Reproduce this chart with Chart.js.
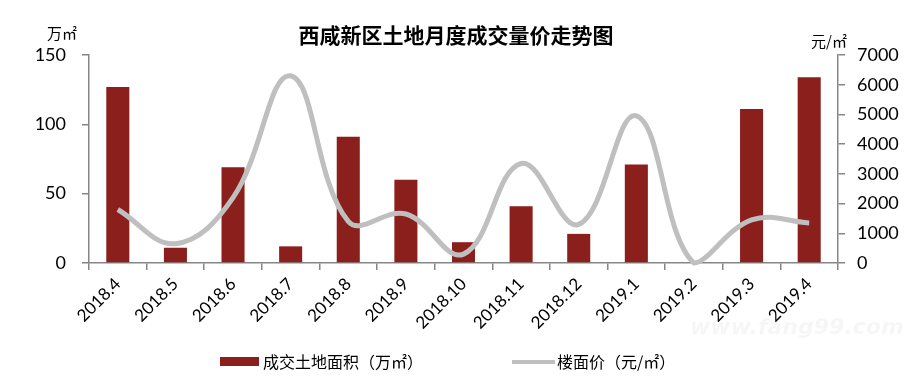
<!DOCTYPE html>
<html><head><meta charset="utf-8">
<script src="https://cdn.jsdelivr.net/npm/chart.js@4.4.0/dist/chart.umd.min.js"></script>
<style>html,body{margin:0;padding:0;background:#fff}canvas{display:block}</style>
</head><body>
<canvas id="c" width="912" height="380"></canvas>
<script>
const categories = ['2018.4','2018.5','2018.6','2018.7','2018.8','2018.9','2018.10','2018.11','2018.12','2019.1','2019.2','2019.3','2019.4'];
const landArea = [127, 11, 69, 12, 91, 60, 15, 41, 21, 71, 0, 111, 134];
const floorPrice = [1800, 650, 2200, 6300, 1400, 1650, 300, 3350, 1300, 4950, 0, 1450, 1350];
const leftTicks = [0, 50, 100, 150];
const rightTicks = [0, 1000, 2000, 3000, 4000, 5000, 6000, 7000];
const titleText = '西咸新区土地月度成交量价走势图';
const leftUnit = '万㎡';
const rightUnit = '元/㎡';
const seriesNames = ['成交土地面积（万㎡）', '楼面价（元/㎡）'];
const watermark = 'www.fang99.com';

const BAR_COLOR = '#8B1F1C';
const LINE_COLOR = '#BFBFBF';
const AXIS_COLOR = '#868686';
const CJK = '"Noto Sans CJK SC", "Noto Sans", sans-serif';

const decor = {
  id: 'decor',
  afterDraw(chart) {
    const ctx = chart.ctx;
    ctx.save();
    ctx.fillStyle = '#000';
    ctx.textAlign = 'center';
    ctx.textBaseline = 'middle';
    ctx.font = 'bold 21px ' + CJK;
    ctx.fillText(titleText, 456, 35);
    ctx.font = '15px ' + CJK;
    ctx.fillText(leftUnit, 62, 33);
    ctx.fillText(rightUnit, 829, 41);
    ctx.font = 'italic bold 22px "DejaVu Sans", sans-serif';
    ctx.fillStyle = 'rgba(0,0,0,0.035)';
    ctx.textAlign = 'left';
    ctx.fillText(watermark, 690, 328);
    ctx.fillStyle = BAR_COLOR;
    ctx.fillRect(220, 357, 39, 9);
    ctx.strokeStyle = LINE_COLOR;
    ctx.lineWidth = 4;
    ctx.beginPath();
    ctx.moveTo(512, 362);
    ctx.lineTo(555, 362);
    ctx.stroke();
    ctx.fillStyle = '#000';
    ctx.font = '16px ' + CJK;
    ctx.textAlign = 'left';
    ctx.fillText(seriesNames[0], 263, 362);
    ctx.fillText(seriesNames[1], 557, 362);
    ctx.restore();
  }
};

new Chart(document.getElementById('c'), {
  data: {
    labels: categories,
    datasets: [
      {
        type: 'line', label: seriesNames[1], data: floorPrice, yAxisID: 'y1',
        borderColor: LINE_COLOR, borderWidth: 5, pointRadius: 0, tension: 0.4,
        fill: false, order: 0, clip: false
      },
      {
        type: 'bar', label: seriesNames[0], data: landArea, yAxisID: 'y',
        backgroundColor: BAR_COLOR, barPercentage: 0.4, categoryPercentage: 1, order: 1
      }
    ]
  },
  options: {
    responsive: false,
    animation: false,
    devicePixelRatio: 1,
    layout: { padding: { top: 55, left: 0, right: 0, bottom: 0 } },
    plugins: { legend: { display: false }, tooltip: { enabled: false }, title: { display: false } },
    scales: {
      x: {
        offset: true,
        grid: { offset: true, drawOnChartArea: false, drawTicks: true, tickLength: 7, color: AXIS_COLOR, lineWidth: 1.5 },
        border: { color: AXIS_COLOR, width: 1.5 },
        ticks: { color: '#000', font: { family: 'Lato, sans-serif', size: 17 }, maxRotation: 45, minRotation: 45, padding: 4, autoSkip: false },
        afterFit(s) { s.height = 117; }
      },
      y: {
        position: 'left',
        min: leftTicks[0], max: leftTicks[leftTicks.length - 1],
        grid: { drawOnChartArea: false, drawTicks: true, tickLength: 7, color: AXIS_COLOR, lineWidth: 1.5 },
        border: { color: AXIS_COLOR, width: 1.5 },
        ticks: { stepSize: leftTicks[1] - leftTicks[0], color: '#000', font: { family: 'Lato, sans-serif', size: 18 }, padding: 16, callback: v => String(v) },
        afterFit(s) { s.width = 89; }
      },
      y1: {
        position: 'right',
        min: rightTicks[0], max: rightTicks[rightTicks.length - 1],
        grid: { drawOnChartArea: false, drawTicks: true, tickLength: 7, color: AXIS_COLOR, lineWidth: 1.5 },
        border: { color: AXIS_COLOR, width: 1.5 },
        ticks: { stepSize: rightTicks[1] - rightTicks[0], color: '#000', font: { family: 'Lato, sans-serif', size: 18 }, padding: 12, callback: v => String(v) },
        afterFit(s) { s.width = 74; }
      }
    }
  },
  plugins: [decor]
});
</script>
</body></html>
